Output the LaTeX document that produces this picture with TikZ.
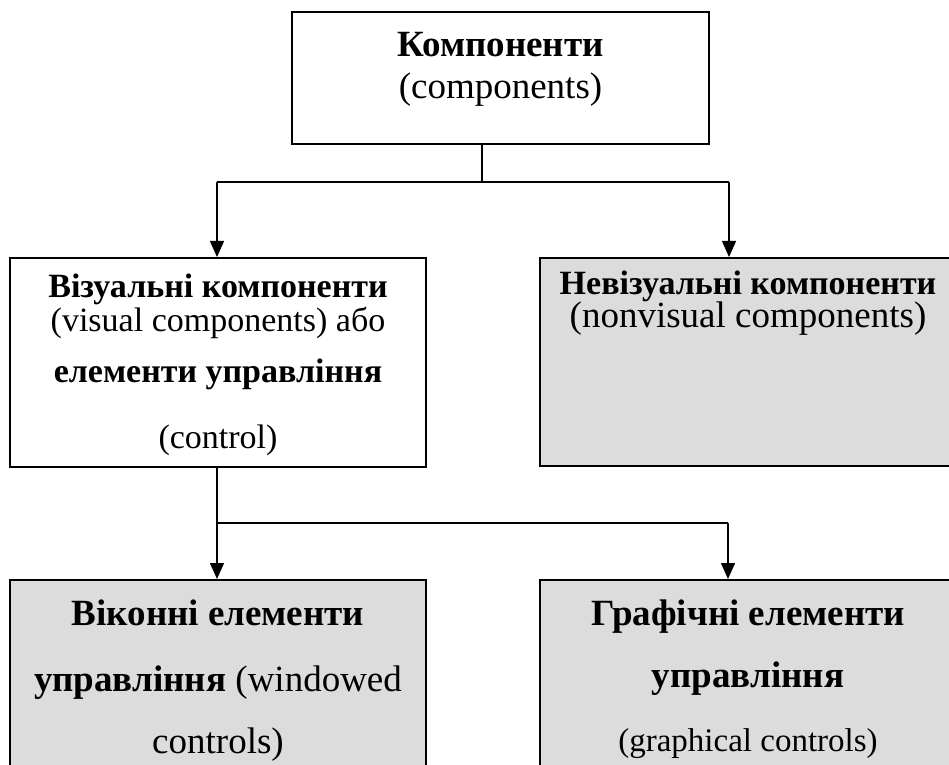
\documentclass[tikz,border=0pt]{standalone}
\usepackage{fontspec}
\setmainfont{Liberation Serif}
\usepackage{tikz}
\usetikzlibrary{arrows.meta,positioning}
\definecolor{linec}{HTML}{000000}
\definecolor{shadebg}{HTML}{DCDCDC}
\tikzset{
  ar/.style={-{Triangle[length=16pt,width=14pt]},line width=1.4pt,linec},
  ln/.style={line width=1.4pt,linec},
  box/.style={draw=linec,line width=2pt,fill=white,inner sep=0pt},
  gbox/.style={box,fill=shadebg},
  txt/.style={align=center,inner sep=0pt}
}
\newcommand{\fsz}[2]{\fontsize{#1}{#2}\selectfont}

\begin{document}
\begin{tikzpicture}[x=1pt,y=1pt]
\clip (0,0) rectangle (949,764);
% boxes
\node[box,minimum width=417pt,minimum height=132pt] (comp) at (500.5,686) {};
\node[box,minimum width=416pt,minimum height=209pt] (vis) at (218,401.5) {};
\node[gbox,minimum width=416pt,minimum height=208pt] (nvis) at (748,402) {};
\node[gbox,minimum width=416pt,minimum height=210pt] (win) at (218,79) {};
\node[gbox,minimum width=416pt,minimum height=210pt] (gr) at (748,79) {};
% texts
\node[txt,font=\fsz{37}{42},below=21pt of comp.north] (comp-t)
  {\textbf{Компоненти}\\(components)};
\node[txt,font=\fsz{34}{34},below=17pt of vis.north] (vis-t)
  {\textbf{Візуальні компоненти}\\(visual components) або\\[17pt]\textbf{елементи управління}\\[32pt](control)};
\node[txt,font=\fsz{34}{34},below=13.5pt of nvis.north] (nvis-t)
  {\textbf{Невізуальні компоненти}\\[-1pt]{\fsz{37}{37}(nonvisual components)}};
\node[txt,font=\fsz{37}{37},below=20.5pt of win.north] (win-t)
  {\textbf{Віконні елементи}\\[29pt]\textbf{управління} (windowed\\[25pt]controls)};
\node[txt,font=\fsz{37}{37},below=20.5pt of gr.north] (gr-t)
  {\textbf{Графічні елементи}\\[25pt]\textbf{управління}\\[27pt]{\fsz{33}{33}(graphical controls)}};
% connectors
\coordinate (s1) at (482,582);
\coordinate (l1) at (217,582);
\coordinate (r1) at (729,582);
\draw[ln] (comp.south -| s1) -- (s1);
\draw[ln] (l1) -- (r1);
\draw[ar] (l1) -- (l1 |- vis.north);
\draw[ar] (r1) -- (r1 |- nvis.north);
\coordinate (l2) at (217,241);
\coordinate (r2) at (728,241);
\draw[ln] (vis.south -| l2) -- (l2) -- (r2);
\draw[ar] (l2) -- (l2 |- win.north);
\draw[ar] (r2) -- (r2 |- gr.north);
\end{tikzpicture}
\end{document}
